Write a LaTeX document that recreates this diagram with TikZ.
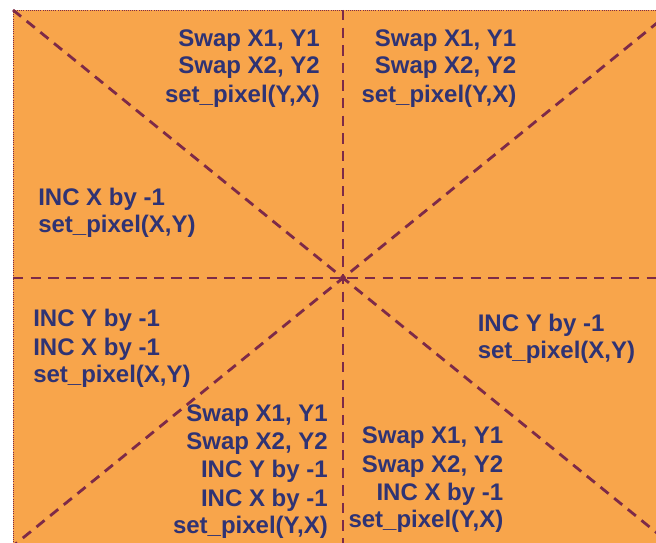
\documentclass[tikz,border=0pt]{standalone}
\usepackage{fontspec}
\setmainfont{Liberation Sans}
\definecolor{fillorange}{HTML}{F8A54B}
\definecolor{txtblue}{HTML}{2F3374}
\definecolor{dashred}{HTML}{7D2A48}
\begin{document}
\begin{tikzpicture}[x=0.75pt,y=-0.75pt,
  lbl/.style={font=\fontsize{18}{21.4}\selectfont\bfseries, text=txtblue, inner sep=0pt},
  lr/.style={lbl, anchor=base east},
  ll/.style={lbl, anchor=base west},
  dline/.style={draw=dashred, line width=2.1pt, dash pattern=on 7.8pt off 5.4pt},
  frame/.style={fill=fillorange, draw=dashred, densely dotted, line width=0.6pt}]
\useasboundingbox (0,0) rectangle (656,542);
\clip (0,0) rectangle (656,542);
\coordinate (tl) at (13,10);
\coordinate (tr) at (673,10);
\coordinate (bl) at (13,546);
\coordinate (br) at (673,546);
\coordinate (tm) at (343,10);
\coordinate (bm) at (343,546);
\coordinate (lm) at (13,278);
\coordinate (rm) at (673,278);
\path[frame] (tl) rectangle (br);
\draw[dline] (tl) -- (br);
\draw[dline] (tr) -- (bl);
\draw[dline] (tm) -- (bm);
\draw[dline] (lm) -- (rm);
% top-left block
\node[lr] (a1) at (320,46) {Swap X1, Y1};
\node[lr] (a2) at (320,74) {Swap X2, Y2};
\node[lr] (a3) at (320,102) {set\_pixel(Y,X)};
% top-right block
\node[lr] (b1) at (516.5,46) {Swap X1, Y1};
\node[lr] (b2) at (516.5,74) {Swap X2, Y2};
\node[lr] (b3) at (516.5,102) {set\_pixel(Y,X)};
% left block
\node[ll] (c1) at (38,205) {INC X by -1};
\node[ll] (c2) at (38,232) {set\_pixel(X,Y)};
% lower-left block
\node[ll] (d1) at (33,326) {INC Y by -1};
\node[ll] (d2) at (33,355) {INC X by -1};
\node[ll] (d3) at (33,382) {set\_pixel(X,Y)};
% right block
\node[ll] (e1) at (477.5,331) {INC Y by -1};
\node[ll] (e2) at (477.5,358) {set\_pixel(X,Y)};
% bottom-middle-left block
\node[lr] (f1) at (328,421) {Swap X1, Y1};
\node[lr] (f2) at (328,449) {Swap X2, Y2};
\node[lr] (f3) at (328,477) {INC Y by -1};
\node[lr] (f4) at (328,506) {INC X by -1};
\node[lr] (f5) at (328,533) {set\_pixel(Y,X)};
% bottom-middle-right block
\node[lr] (g1) at (503.5,443) {Swap X1, Y1};
\node[lr] (g2) at (503.5,472) {Swap X2, Y2};
\node[lr] (g3) at (503.5,500.5) {INC X by -1};
\node[lr] (g4) at (503.5,527) {set\_pixel(Y,X)};
\end{tikzpicture}
\end{document}
